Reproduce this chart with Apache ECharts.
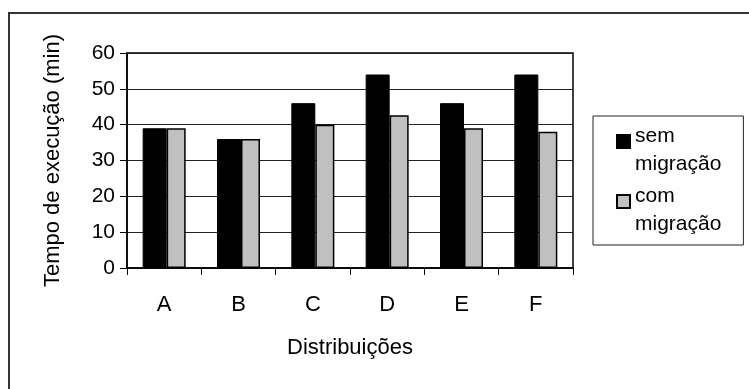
<!DOCTYPE html>
<html>
<head>
<meta charset="utf-8">
<script src="https://cdn.jsdelivr.net/npm/echarts@6/dist/echarts.min.js"></script>
<style>
html, body { margin: 0; padding: 0; background: #fff; }
#wrap { position: relative; width: 749px; height: 389px; overflow: hidden; }
#frame { position: absolute; left: 8px; top: 12px; width: 760px; height: 400px;
  border-left: 2px solid #333; border-top: 2px solid #333; }
#chart { position: absolute; left: 0; top: 0; width: 749px; height: 389px; }
</style>
</head>
<body>
<div id="wrap">
  <div id="frame"></div>
  <div id="chart"></div>
</div>
<script>
// dados do gráfico
const categorias = ['A', 'B', 'C', 'D', 'E', 'F'];
const semMigracao = [39, 36, 46, 54, 46, 54];
const comMigracao = [39, 36, 40, 42.6, 39, 38];
const nomesSeries = ['sem\nmigração', 'com\nmigração'];

const fonte = '"Liberation Sans", Arial, sans-serif';
// ícone com espaço livre em baixo para alinhar com a primeira linha
const icone = 'path://M0,0L13,0L13,13L0,13Z M0,30';

const chart = echarts.init(document.getElementById('chart'));

chart.setOption({
  backgroundColor: 'transparent',
  animation: false,
  textStyle: { fontFamily: fonte },
  grid: {
    left: 127, top: 53, right: 176, bottom: 121,
    show: true, borderColor: '#000', borderWidth: 1.5, backgroundColor: '#fff'
  },
  legend: {
    orient: 'vertical',
    left: 593, top: 116,
    padding: [6, 22, 7, 23],
    itemGap: 4,
    itemWidth: 13, itemHeight: 30,
    backgroundColor: '#fff',
    borderColor: '#222', borderWidth: 1,
    textStyle: { fontSize: 21, lineHeight: 28, color: '#000', fontFamily: fonte },
    data: [
      { name: nomesSeries[0], icon: icone },
      { name: nomesSeries[1], icon: icone }
    ]
  },
  xAxis: {
    type: 'category',
    data: categorias,
    boundaryGap: true,
    axisLine: { lineStyle: { color: '#000', width: 1.5 } },
    axisTick: { show: true, length: 7, lineStyle: { color: '#000' } },
    axisLabel: { fontSize: 22, color: '#000', margin: 26 },
    name: 'Distribuições',
    nameLocation: 'middle',
    nameGap: 69,
    nameTextStyle: { fontSize: 22, color: '#000' }
  },
  yAxis: {
    type: 'value',
    min: 0, max: 60, interval: 10,
    axisLine: { show: true, lineStyle: { color: '#000', width: 1.5 } },
    axisTick: { show: true, length: 7, lineStyle: { color: '#000' } },
    axisLabel: { fontSize: 21, color: '#000', margin: 12 },
    splitLine: { show: true, lineStyle: { color: '#222', width: 1 } },
    name: 'Tempo de execução (min)',
    nameLocation: 'middle',
    nameGap: 63,
    nameTextStyle: { fontSize: 22, color: '#000' }
  },
  series: [
    {
      name: nomesSeries[0],
      type: 'bar',
      data: semMigracao,
      barWidth: 24,
      barGap: '0%',
      itemStyle: { color: '#000', borderColor: '#000', borderWidth: 1 }
    },
    {
      name: nomesSeries[1],
      type: 'bar',
      data: comMigracao,
      barWidth: 19,
      barGap: '0%',
      itemStyle: { color: '#c0c0c0', borderColor: '#000', borderWidth: 1.5 }
    }
  ]
});
</script>
</body>
</html>
